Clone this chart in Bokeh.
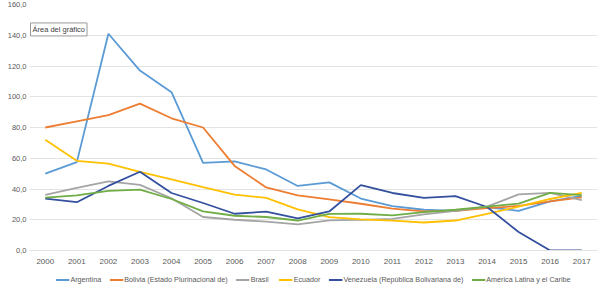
from bokeh.plotting import figure
from bokeh.layouts import column
from bokeh.models import FactorRange, Range1d, Legend, LegendItem, Label, CustomJSTickFormatter, FixedTicker
from bokeh.embed import file_html
from bokeh.resources import INLINE

years = [str(y) for y in range(2000, 2018)]

argentina = [50.0, 57.5, 141.0, 117.0, 103.0, 57.0, 58.0, 52.7, 42.0, 44.3, 33.8, 28.8, 26.5, 25.8, 28.3, 25.8, 32.0, 35.5]
bolivia = [80.0, 84.0, 88.0, 95.5, 86.0, 80.0, 55.0, 41.0, 35.8, 33.2, 30.4, 27.2, 25.5, 25.8, 27.5, 29.0, 32.0, 34.5]
brasil = [36.2, 40.8, 45.0, 42.7, 34.0, 21.8, 20.0, 18.8, 17.0, 19.6, 19.9, 20.6, 23.5, 25.8, 28.5, 36.5, 37.5, 32.8]
ecuador = [72.0, 58.3, 56.5, 51.2, 46.3, 41.2, 36.4, 34.2, 26.7, 21.7, 20.3, 19.4, 18.2, 19.5, 23.8, 28.5, 33.5, 37.5]
venezuela = [33.8, 31.4, 42.0, 51.2, 37.4, 30.9, 23.9, 25.3, 20.9, 25.4, 42.5, 37.4, 34.2, 35.4, 28.3, 12.0, 0.0, 0.0]
alc = [34.4, 35.8, 38.8, 39.6, 33.5, 25.5, 22.6, 21.8, 19.5, 23.8, 23.9, 22.8, 25.0, 26.5, 28.5, 30.5, 37.5, 36.0]

series_names = ["Argentina", "Bolivia (Estado Plurinacional de)", "Brasil", "Ecuador",
                "Venezuela (República Bolivariana de)", "América Latina y el Caribe"]
series_values = [argentina, bolivia, brasil, ecuador, venezuela, alc]
series_colors = ["#5B9BD5", "#ED7D31", "#A5A5A5", "#FFC000", "#34509E", "#70AD47"]

y_ticks = [0, 20, 40, 60, 80, 100, 120, 140, 160]

FONT = "Liberation Sans"
TXT = "#595959"

p = figure(width=600, height=268, x_range=FactorRange(*years), y_range=Range1d(0, 160),
           output_backend="svg", toolbar_location=None,
           min_border_left=29, min_border_right=3, min_border_top=4, min_border_bottom=18)
p.outline_line_color = None
p.background_fill_color = "white"
p.border_fill_color = "white"

p.xgrid.grid_line_color = None
p.ygrid.grid_line_color = "#E3E3E3"
p.ygrid.grid_line_width = 1
p.yaxis.ticker = FixedTicker(ticks=y_ticks)
p.yaxis.formatter = CustomJSTickFormatter(code="return tick.toFixed(1).replace('.', ',');")
p.yaxis.axis_line_color = None
p.yaxis.major_tick_line_color = None
p.yaxis.minor_tick_line_color = None
p.yaxis.major_tick_out = 0
p.yaxis.major_tick_in = 0
p.yaxis.major_label_standoff = 3
p.yaxis.major_label_text_font = FONT
p.yaxis.major_label_text_font_size = "7.5px"
p.yaxis.major_label_text_color = TXT

p.xaxis.axis_line_color = "#E3E3E3"
p.xaxis.major_tick_line_color = None
p.xaxis.major_tick_out = 0
p.xaxis.major_tick_in = 0
p.xaxis.major_label_standoff = 8
p.xaxis.major_label_text_font = FONT
p.xaxis.major_label_text_font_size = "8px"
p.xaxis.major_label_text_color = TXT

for name, vals, col in zip(series_names, series_values, series_colors):
    p.line(years, vals, line_color=col, line_width=1.8)

tip = Label(x=0, y=148, x_offset=1, text="Área del gráfico", text_font=FONT, text_font_size="7.5px",
            text_color="#404040", text_align="left", text_baseline="top",
            border_line_color="#9A9A9A", border_line_width=1,
            background_fill_color="white", padding=2)
p.add_layout(tip)

# legend strip (its sample lines lie outside the strip's visible range)
q = figure(width=600, height=22, x_range=Range1d(0, 1), y_range=Range1d(0, 1),
           output_backend="svg", toolbar_location=None,
           min_border_left=0, min_border_right=0, min_border_top=0, min_border_bottom=0)
q.axis.visible = False
q.grid.visible = False
q.outline_line_color = None
q.border_fill_color = "white"
q.background_fill_color = "white"
items = []
for name, col in zip(series_names, series_colors):
    r = q.line(x=[5, 6], y=[5, 6], line_color=col, line_width=1.8)
    items.append(LegendItem(label=name, renderers=[r]))
legend = Legend(items=items, orientation="horizontal", location="center",
                label_text_font=FONT, label_text_font_size="7.2px", label_text_color=TXT,
                glyph_width=14, glyph_height=8, label_height=8, label_standoff=1,
                spacing=8, padding=1, margin=0, border_line_color=None,
                background_fill_alpha=0)
q.add_layout(legend, "center")

layout = column(p, q)
open("out.html", "w").write(file_html(layout, INLINE))
